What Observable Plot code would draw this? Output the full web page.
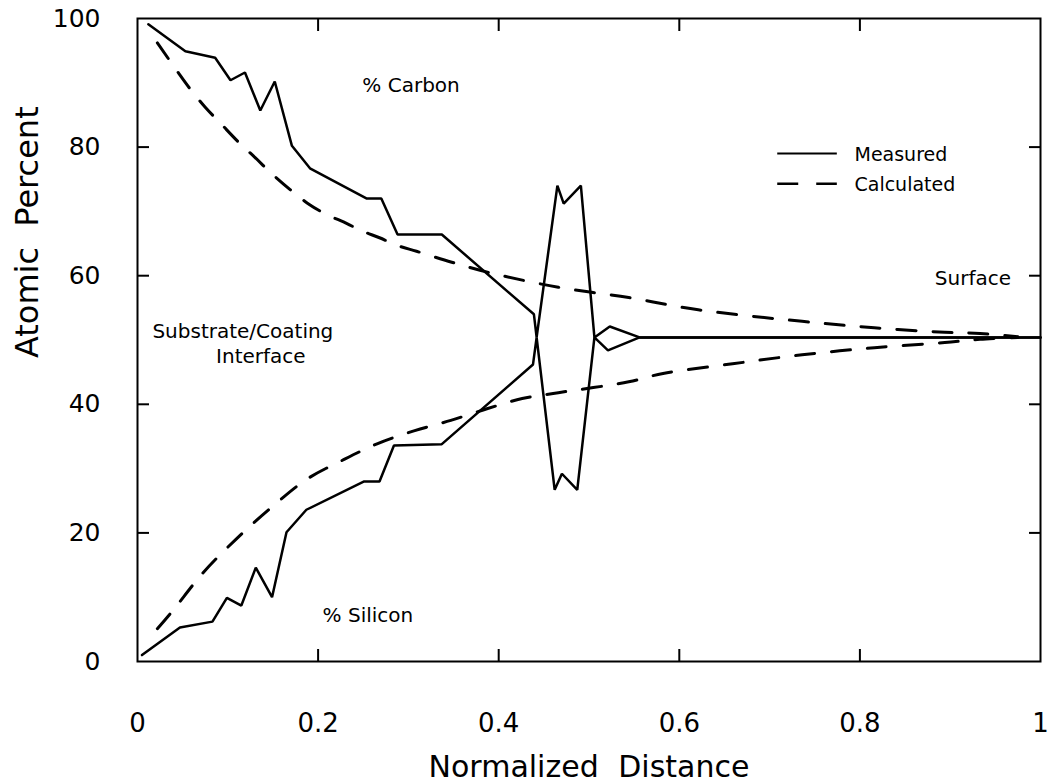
<!DOCTYPE html>
<html><head><meta charset="utf-8">
<script src="https://cdn.jsdelivr.net/npm/d3@7"></script>
<script src="https://cdn.jsdelivr.net/npm/@observablehq/plot@0.6"></script>
<style>
html,body{margin:0;padding:0;background:#fff}
#chart{position:absolute;left:0;top:0}
</style>
</head><body><div id="chart"></div>
<script>
// ---- data ----
const carbonMeasuredX = [0.012, 0.053, 0.086, 0.103, 0.119, 0.136, 0.152, 0.171, 0.191, 0.254, 0.270, 0.288, 0.337, 0.439, 0.442, 0.465, 0.472, 0.491, 0.506, 0.523, 0.556, 1.0];
const carbonMeasuredY = [99.1, 94.9, 93.9, 90.4, 91.6, 85.7, 90.2, 80.2, 76.7, 72.0, 72.0, 66.4, 66.4, 54.0, 50.4, 74.0, 71.2, 74.0, 50.4, 52.1, 50.4, 50.4];

const siliconMeasuredX = [0.005, 0.047, 0.083, 0.099, 0.115, 0.131, 0.149, 0.165, 0.187, 0.251, 0.268, 0.284, 0.337, 0.438, 0.442, 0.462, 0.470, 0.487, 0.506, 0.521, 0.556, 1.0];
const siliconMeasuredY = [1.0, 5.3, 6.2, 9.9, 8.7, 14.6, 10.0, 20.1, 23.6, 28.0, 28.0, 33.6, 33.8, 46.2, 50.4, 26.7, 29.2, 26.7, 50.4, 48.4, 50.4, 50.4];

const carbonCalcX = [0.022, 0.044, 0.058, 0.075, 0.092, 0.111, 0.130, 0.150, 0.169, 0.189, 0.207, 0.232, 0.248, 0.268, 0.288, 0.309, 0.348, 0.389, 0.466, 0.544, 0.621, 0.736, 0.816, 0.894, 0.933, 0.975];
const carbonCalcY = [96.2, 91.8, 89.1, 86.2, 83.7, 80.9, 78.4, 75.7, 73.4, 71.2, 69.7, 68.1, 67.0, 65.9, 64.7, 63.8, 62.1, 60.5, 58.2, 56.6, 54.7, 52.9, 51.9, 51.2, 51.0, 50.5];

const siliconCalcX = [0.022, 0.039, 0.072, 0.109, 0.147, 0.187, 0.227, 0.266, 0.307, 0.347, 0.387, 0.426, 0.466, 0.544, 0.582, 0.659, 0.736, 0.816, 0.894, 0.933, 0.975];
const siliconCalcY = [5.1, 7.9, 13.7, 19.0, 23.8, 28.3, 31.3, 33.9, 35.9, 37.5, 39.3, 40.9, 41.8, 43.5, 44.8, 46.3, 47.7, 48.8, 49.6, 50.1, 50.4];

const xTickValues = [0, 0.2, 0.4, 0.6, 0.8, 1];
const xTickLabels = ["0", "0.2", "0.4", "0.6", "0.8", "1"];
const yTickValues = [0, 20, 40, 60, 80, 100];
const yTickLabels = ["0", "20", "40", "60", "80", "100"];
const seriesNames = ["Measured", "Calculated"];
const elementLabels = ["% Carbon", "% Silicon"];

// ---- build tables ----
const rows = (xs, ys, element) => xs.map((x, i) => ({x, y: ys[i], element}));
const measured = [...rows(carbonMeasuredX, carbonMeasuredY, "Carbon"), ...rows(siliconMeasuredX, siliconMeasuredY, "Silicon")];
const calculated = [...rows(carbonCalcX, carbonCalcY, "Carbon"), ...rows(siliconCalcX, siliconCalcY, "Silicon")];

const innerX = xTickValues.slice(1, -1);
const innerY = yTickValues.slice(1, -1);
const tickStyle = {tickSize: -12, tickFormat: () => "", label: null, strokeWidth: 2};

const plot = Plot.plot({
  width: 1050, height: 784,
  marginLeft: 137, marginRight: 10, marginTop: 18, marginBottom: 123,
  style: {fontFamily: "DejaVu Sans", background: "#fff", color: "#000"},
  x: {domain: [0, 1]},
  y: {domain: [0, 100]},
  marks: [
    Plot.frame({strokeWidth: 2}),
    Plot.axisX(innerX, {anchor: "bottom", ...tickStyle}),
    Plot.axisX(innerX, {anchor: "top", ...tickStyle}),
    Plot.axisY(innerY, {anchor: "left", ...tickStyle}),
    Plot.axisY(innerY, {anchor: "right", ...tickStyle}),
    Plot.axisX(xTickValues, {anchor: "bottom", tickSize: 0, tickPadding: 52, fontSize: 26, label: null,
      tickFormat: d => xTickLabels[xTickValues.indexOf(d)]}),
    Plot.axisY(yTickValues, {anchor: "left", tickSize: 0, tickPadding: 37, fontSize: 25, label: null,
      tickFormat: d => yTickLabels[yTickValues.indexOf(d)]}),
    Plot.line(calculated, {x: "x", y: "y", z: "element", stroke: "#000", strokeWidth: 3,
      strokeDasharray: "19,17", curve: "catmull-rom"}),
    Plot.line(measured, {x: "x", y: "y", z: "element", stroke: "#000", strokeWidth: 2.5, strokeLinejoin: "miter"}),
    // annotations
    Plot.text([elementLabels[0]], {x: 0.249, y: 89.6, textAnchor: "start", fontSize: 20}),
    Plot.text([elementLabels[1]], {x: 0.205, y: 7.2, textAnchor: "start", fontSize: 20}),
    Plot.text(["Substrate/Coating"], {x: 0.0165, y: 51.3, textAnchor: "start", fontSize: 20}),
    Plot.text(["Interface"], {x: 0.087, y: 47.4, textAnchor: "start", fontSize: 20}),
    Plot.text(["Surface"], {x: 0.883, y: 59.6, textAnchor: "start", fontSize: 20}),
    // legend
    Plot.ruleY([79.0], {x1: 0.709, x2: 0.775, stroke: "#000", strokeWidth: 2}),
    Plot.ruleY([74.3], {x1: 0.709, x2: 0.775, stroke: "#000", strokeWidth: 2.5, strokeDasharray: "21,18"}),
    Plot.text([seriesNames[0]], {x: 0.794, y: 78.8, textAnchor: "start", fontSize: 19}),
    Plot.text([seriesNames[1]], {x: 0.794, y: 74.1, textAnchor: "start", fontSize: 19}),
    // axis titles
    Plot.text(["Normalized Distance"], {frameAnchor: "bottom", dy: 106, fontSize: 30, lineAnchor: "middle"}),
    Plot.text(["Atomic Percent"], {frameAnchor: "left", dx: -110, dy: 18, rotate: -90, fontSize: 32, lineAnchor: "middle"})
  ]
});
document.getElementById("chart").appendChild(plot);
d3.select(plot).selectAll("text").filter(function() {
  const t = this.textContent;
  return t === "Normalized Distance" || t === "Atomic Percent";
}).style("word-spacing", "10px");
</script>
</body></html>
